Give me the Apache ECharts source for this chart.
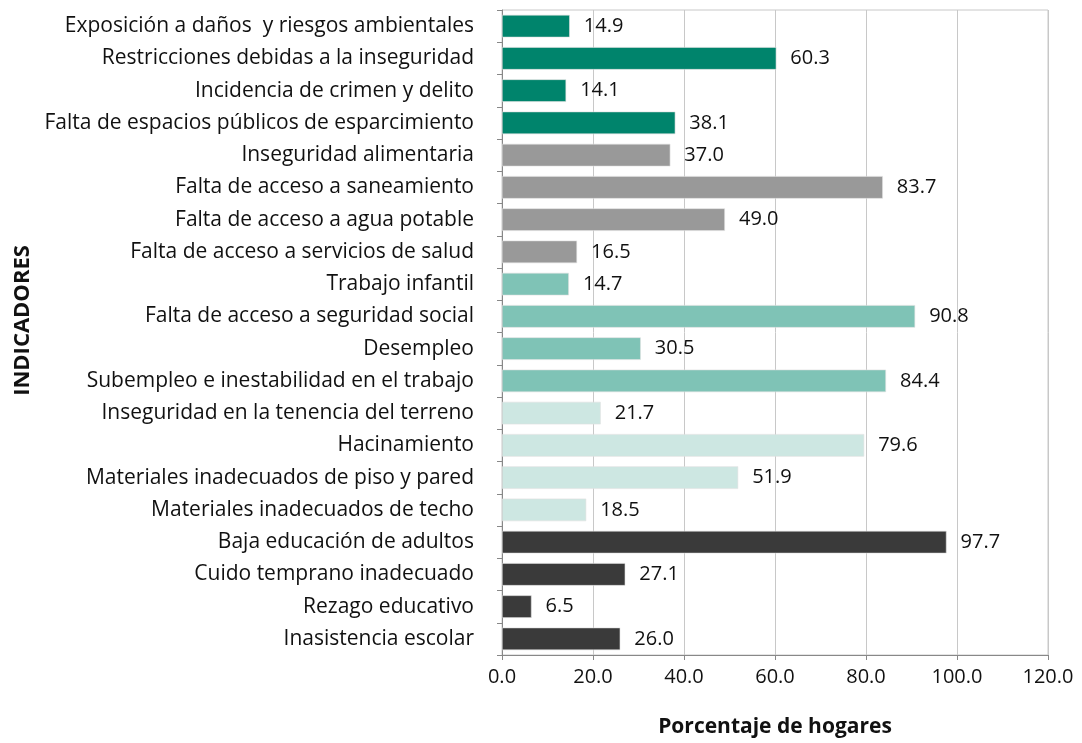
<!DOCTYPE html>
<html>
<head>
<meta charset="utf-8">
<script src="https://cdn.jsdelivr.net/npm/echarts@6/dist/echarts.min.js"></script>
<style>
  html, body { margin: 0; padding: 0; background: #fff; }
  #chart { width: 1082px; height: 743px; }
</style>
</head>
<body>
<div id="chart"></div>
<script>
  // indicadores, de arriba hacia abajo
  const categories = [
    'Exposición a daños  y riesgos ambientales',
    'Restricciones debidas a la inseguridad',
    'Incidencia de crimen y delito',
    'Falta de espacios públicos de esparcimiento',
    'Inseguridad alimentaria',
    'Falta de acceso a saneamiento',
    'Falta de acceso a agua potable',
    'Falta de acceso a servicios de salud',
    'Trabajo infantil',
    'Falta de acceso a seguridad social',
    'Desempleo',
    'Subempleo e inestabilidad en el trabajo',
    'Inseguridad en la tenencia del terreno',
    'Hacinamiento',
    'Materiales inadecuados de piso y pared',
    'Materiales inadecuados de techo',
    'Baja educación de adultos',
    'Cuido temprano inadecuado',
    'Rezago educativo',
    'Inasistencia escolar'
  ];
  const values = [14.9, 60.3, 14.1, 38.1, 37.0, 83.7, 49.0, 16.5, 14.7, 90.8,
                  30.5, 84.4, 21.7, 79.6, 51.9, 18.5, 97.7, 27.1, 6.5, 26.0];
  // dimensión a la que pertenece cada indicador
  const groups = [0, 0, 0, 0, 1, 1, 1, 1, 2, 2, 2, 2, 3, 3, 3, 3, 4, 4, 4, 4];
  const xTicks = [0, 20, 40, 60, 80, 100, 120];

  const palette = ['#00846c', '#999999', '#7fc3b6', '#cde7e2', '#3a3a3a'];
  const font = '"Open Sans", "Noto Sans", sans-serif';

  const chart = echarts.init(document.getElementById('chart'));
  chart.setOption({
    animation: false,
    textStyle: { fontFamily: font },
    grid: {
      left: 502, right: 34, top: 10, bottom: 87,
      show: true, borderColor: '#c8c8c8', borderWidth: 1
    },
    xAxis: {
      type: 'value',
      min: xTicks[0],
      max: xTicks[xTicks.length - 1],
      interval: 20,
      name: 'Porcentaje de hogares',
      nameLocation: 'middle',
      nameGap: 62,
      nameTextStyle: { fontSize: 21, fontWeight: 'bold', color: '#111', fontFamily: font },
      axisLine: { show: true, lineStyle: { color: '#888', width: 1 } },
      axisTick: { show: true, length: 5, lineStyle: { color: '#888' } },
      axisLabel: {
        fontSize: 20, color: '#111', margin: 12,
        formatter: v => v.toFixed(1)
      },
      splitLine: { show: true, lineStyle: { color: '#c8c8c8', width: 1 } }
    },
    yAxis: {
      type: 'category',
      data: categories,
      inverse: true,
      name: 'INDICADORES',
      nameLocation: 'middle',
      nameRotate: 90,
      nameGap: 466,
      nameTextStyle: {
        fontSize: 22, fontWeight: 'bold', color: '#111', fontFamily: font,
        padding: [0, 0, 0, 24]
      },
      axisLine: { show: true, lineStyle: { color: '#888', width: 1 } },
      axisTick: { show: true, length: 5, lineStyle: { color: '#888' } },
      axisLabel: { fontSize: 21, color: '#111', margin: 28 },
      splitLine: { show: false }
    },
    series: [{
      type: 'bar',
      barCategoryGap: '30%',
      data: values.map((v, i) => ({
        value: v,
        itemStyle: { color: palette[groups[i]], borderColor: '#e0e0e0', borderWidth: 0.6 }
      })),
      label: {
        show: true,
        position: 'right',
        distance: 14,
        fontSize: 20,
        color: '#111',
        formatter: p => p.value.toFixed(1)
      }
    }]
  });
</script>
</body>
</html>
